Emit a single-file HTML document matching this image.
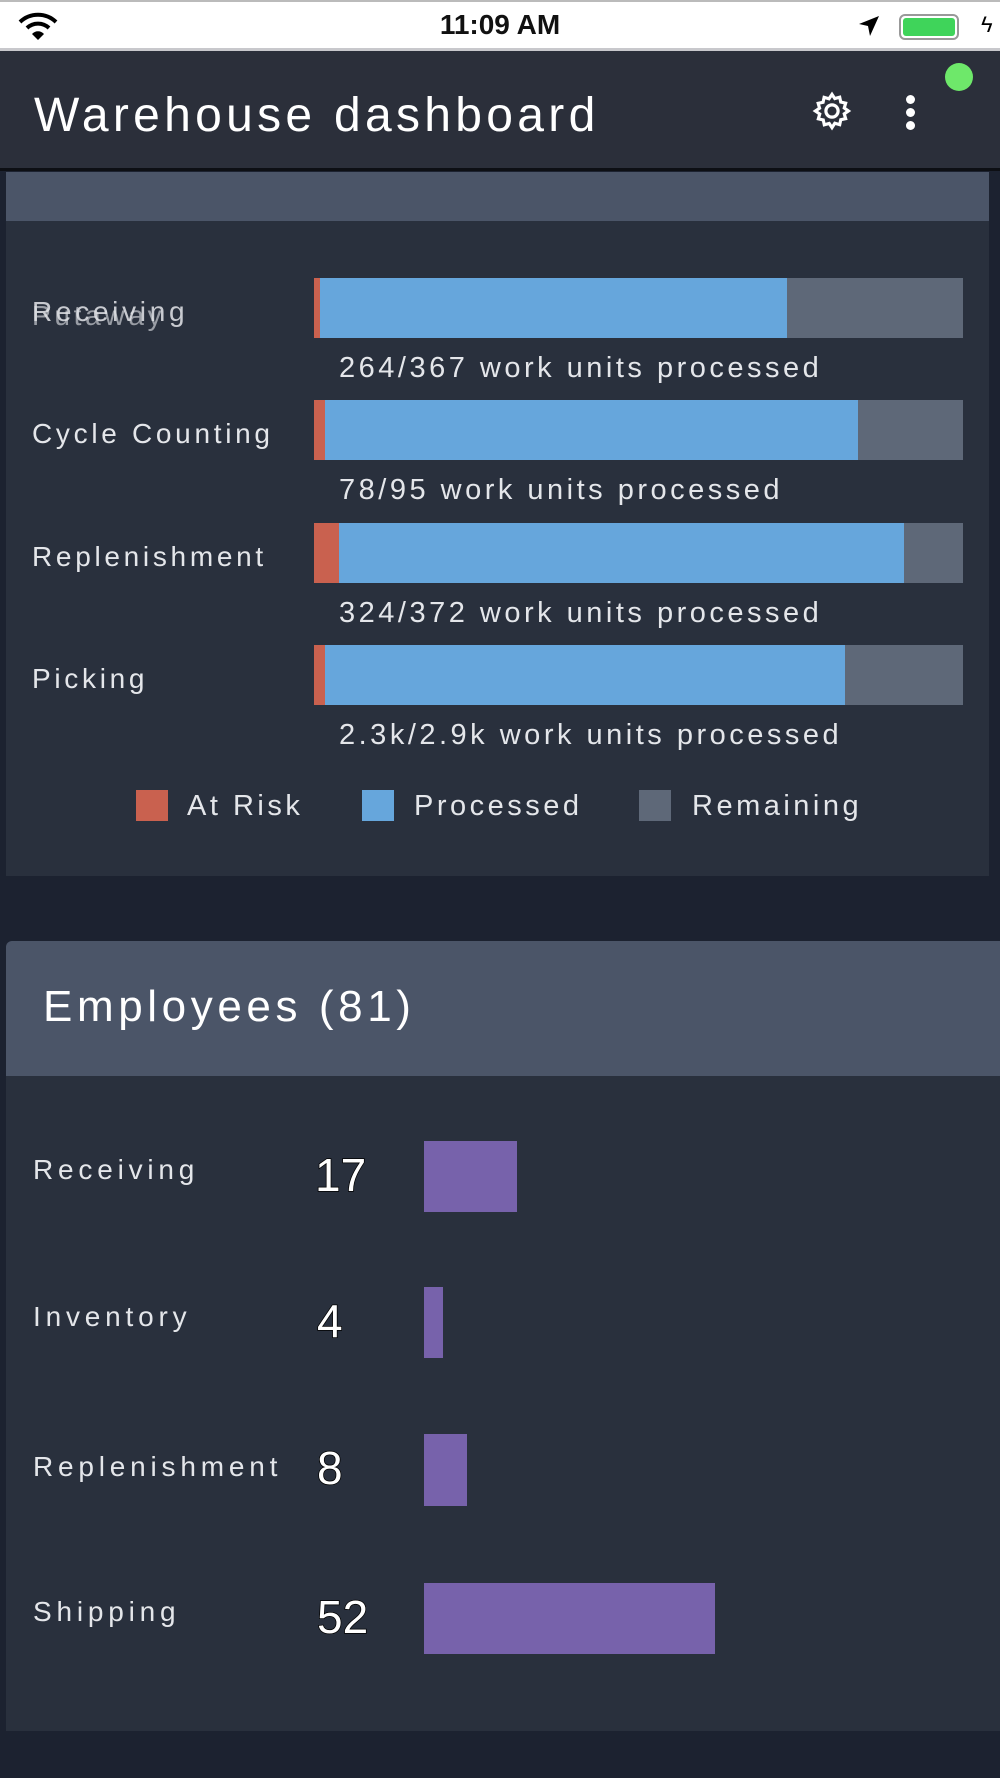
<!DOCTYPE html>
<html><head><meta charset="utf-8"><style>
*{margin:0;padding:0;box-sizing:border-box}
body{width:1000px;height:1778px;background:#1c2230;position:relative;overflow:hidden;font-family:"Liberation Sans",sans-serif;color:#e6e8ec}
.a{position:absolute}
.lbl{position:absolute;font-size:28px;letter-spacing:3.7px;color:#e4e6ea;line-height:1;white-space:nowrap}
.cap{position:absolute;font-size:29px;color:#e4e6ea;letter-spacing:3.5px;line-height:1;white-space:nowrap}
.num{position:absolute;font-size:46px;color:#fff;line-height:1;-webkit-text-stroke:1.5px #000;paint-order:stroke fill}
</style></head><body>
<div class="a" style="left:0;top:0;width:1000px;height:51px;background:#fff;border-top:2px solid #bbb;border-bottom:3px solid #c8c8cc"></div>
<svg class="a" style="left:18px;top:12px" width="40" height="30" viewBox="0 0 40 30"><path d="M2 10 A26 26 0 0 1 38 10" stroke="#000" stroke-width="4" fill="none"/><path d="M9 16 A16 16 0 0 1 31 16" stroke="#000" stroke-width="4" fill="none"/><path d="M14 22 L20 28 L26 22 A8 8 0 0 0 14 22Z" fill="#000"/></svg>
<div class="a" style="left:0;width:1000px;top:9px;text-align:center;font-size:28px;font-weight:bold;color:#111">11:09 AM</div>
<svg class="a" style="left:857px;top:14px" width="24" height="24" viewBox="0 0 24 24"><path d="M22 2 L2 10 L11 12 L13 22Z" fill="#000"/></svg>
<div class="a" style="left:899px;top:14px;width:60px;height:26px;border:2px solid #999;border-radius:6px;padding:2px"><div style="width:100%;height:100%;background:#3fd45a;border-radius:3px"></div></div>
<div class="a" style="left:981px;top:12px;font-size:22px;color:#000">ϟ</div>
<div class="a" style="left:0;top:51px;width:1000px;height:117px;background:#2b2f3a"></div>
<div class="a" style="left:0;top:168px;width:1000px;height:3px;background:#0d0f14"></div>
<div class="a" style="left:34px;top:88px;font-size:48px;color:#fff;letter-spacing:4.3px;white-space:nowrap">Warehouse dashboard</div>
<svg class="a" style="left:811px;top:90px" width="42" height="42" viewBox="0 0 24 24"><path fill="none" stroke="#fff" stroke-width="1.8" d="M12 2.5l1.6 2.4 2.8-.8.6 2.8 2.8.6-.8 2.8 2.4 1.7-2.4 1.6.8 2.8-2.8.6-.6 2.8-2.8-.8L12 21.5l-1.6-2.4-2.8.8-.6-2.8-2.8-.6.8-2.8L2.5 12l2.4-1.6-.8-2.8 2.8-.6.6-2.8 2.8.8z"/><circle cx="12" cy="12" r="3.5" fill="none" stroke="#fff" stroke-width="1.8"/></svg>
<div class="a" style="left:906px;top:95px;width:9px;height:9px;border-radius:50%;background:#fff"></div>
<div class="a" style="left:906px;top:108px;width:9px;height:9px;border-radius:50%;background:#fff"></div>
<div class="a" style="left:906px;top:121px;width:9px;height:9px;border-radius:50%;background:#fff"></div>
<div class="a" style="left:945px;top:63px;width:28px;height:28px;border-radius:50%;background:#6ee86a"></div>

<div class="a" style="left:6px;top:172px;width:983px;height:49px;background:#4b5568"></div>
<div class="a" style="left:6px;top:221px;width:983px;height:655px;background:#29303d"></div>

<div class="lbl" style="left:32px;top:298px;opacity:.85">Receiving</div>
<div class="lbl" style="left:32px;top:302px;opacity:.6">Putaway</div>
<div class="a" style="left:314px;top:278px;width:649px;height:60px;background:#5e6878"></div>
<div class="a" style="left:314px;top:278px;width:473px;height:60px;background:#66a6dc"></div>
<div class="a" style="left:314px;top:278px;width:6px;height:60px;background:#c9614f"></div>
<div class="cap" style="left:339px;top:354px">264/367 work units processed</div>

<div class="lbl" style="left:32px;top:420px">Cycle Counting</div>
<div class="a" style="left:314px;top:400px;width:649px;height:60px;background:#5e6878"></div>
<div class="a" style="left:314px;top:400px;width:544px;height:60px;background:#66a6dc"></div>
<div class="a" style="left:314px;top:400px;width:11px;height:60px;background:#c9614f"></div>
<div class="cap" style="left:339px;top:476px">78/95 work units processed</div>

<div class="lbl" style="left:32px;top:543px">Replenishment</div>
<div class="a" style="left:314px;top:523px;width:649px;height:60px;background:#5e6878"></div>
<div class="a" style="left:314px;top:523px;width:590px;height:60px;background:#66a6dc"></div>
<div class="a" style="left:314px;top:523px;width:25px;height:60px;background:#c9614f"></div>
<div class="cap" style="left:339px;top:599px">324/372 work units processed</div>

<div class="lbl" style="left:32px;top:665px">Picking</div>
<div class="a" style="left:314px;top:645px;width:649px;height:60px;background:#5e6878"></div>
<div class="a" style="left:314px;top:645px;width:531px;height:60px;background:#66a6dc"></div>
<div class="a" style="left:314px;top:645px;width:11px;height:60px;background:#c9614f"></div>
<div class="cap" style="left:339px;top:721px">2.3k/2.9k work units processed</div>

<div class="a" style="left:136px;top:790px;width:32px;height:31px;background:#c9614f"></div>
<div class="cap" style="left:187px;top:792px">At Risk</div>
<div class="a" style="left:362px;top:790px;width:32px;height:31px;background:#66a6dc"></div>
<div class="cap" style="left:414px;top:792px">Processed</div>
<div class="a" style="left:639px;top:790px;width:32px;height:31px;background:#5e6878"></div>
<div class="cap" style="left:692px;top:792px">Remaining</div>

<div class="a" style="left:6px;top:941px;width:994px;height:135px;background:#4b5568;border-top-left-radius:6px"></div>
<div class="a" style="left:43px;top:982px;font-size:44px;color:#fff;letter-spacing:4.6px;white-space:nowrap">Employees (81)</div>
<div class="a" style="left:6px;top:1076px;width:994px;height:655px;background:#29303d"></div>

<div class="lbl" style="left:33px;top:1156px;letter-spacing:4.8px">Receiving</div>
<div class="num" style="left:315px;top:1152px">17</div>
<div class="a" style="left:424px;top:1141px;width:93px;height:71px;background:#7762ab"></div>

<div class="lbl" style="left:33px;top:1303px;letter-spacing:4.8px">Inventory</div>
<div class="num" style="left:317px;top:1298px">4</div>
<div class="a" style="left:424px;top:1287px;width:19px;height:71px;background:#7762ab"></div>

<div class="lbl" style="left:33px;top:1453px;letter-spacing:4.8px">Replenishment</div>
<div class="num" style="left:317px;top:1445px">8</div>
<div class="a" style="left:424px;top:1434px;width:43px;height:72px;background:#7762ab"></div>

<div class="lbl" style="left:33px;top:1598px;letter-spacing:4.8px">Shipping</div>
<div class="num" style="left:317px;top:1594px">52</div>
<div class="a" style="left:424px;top:1583px;width:291px;height:71px;background:#7762ab"></div>
</body></html>
